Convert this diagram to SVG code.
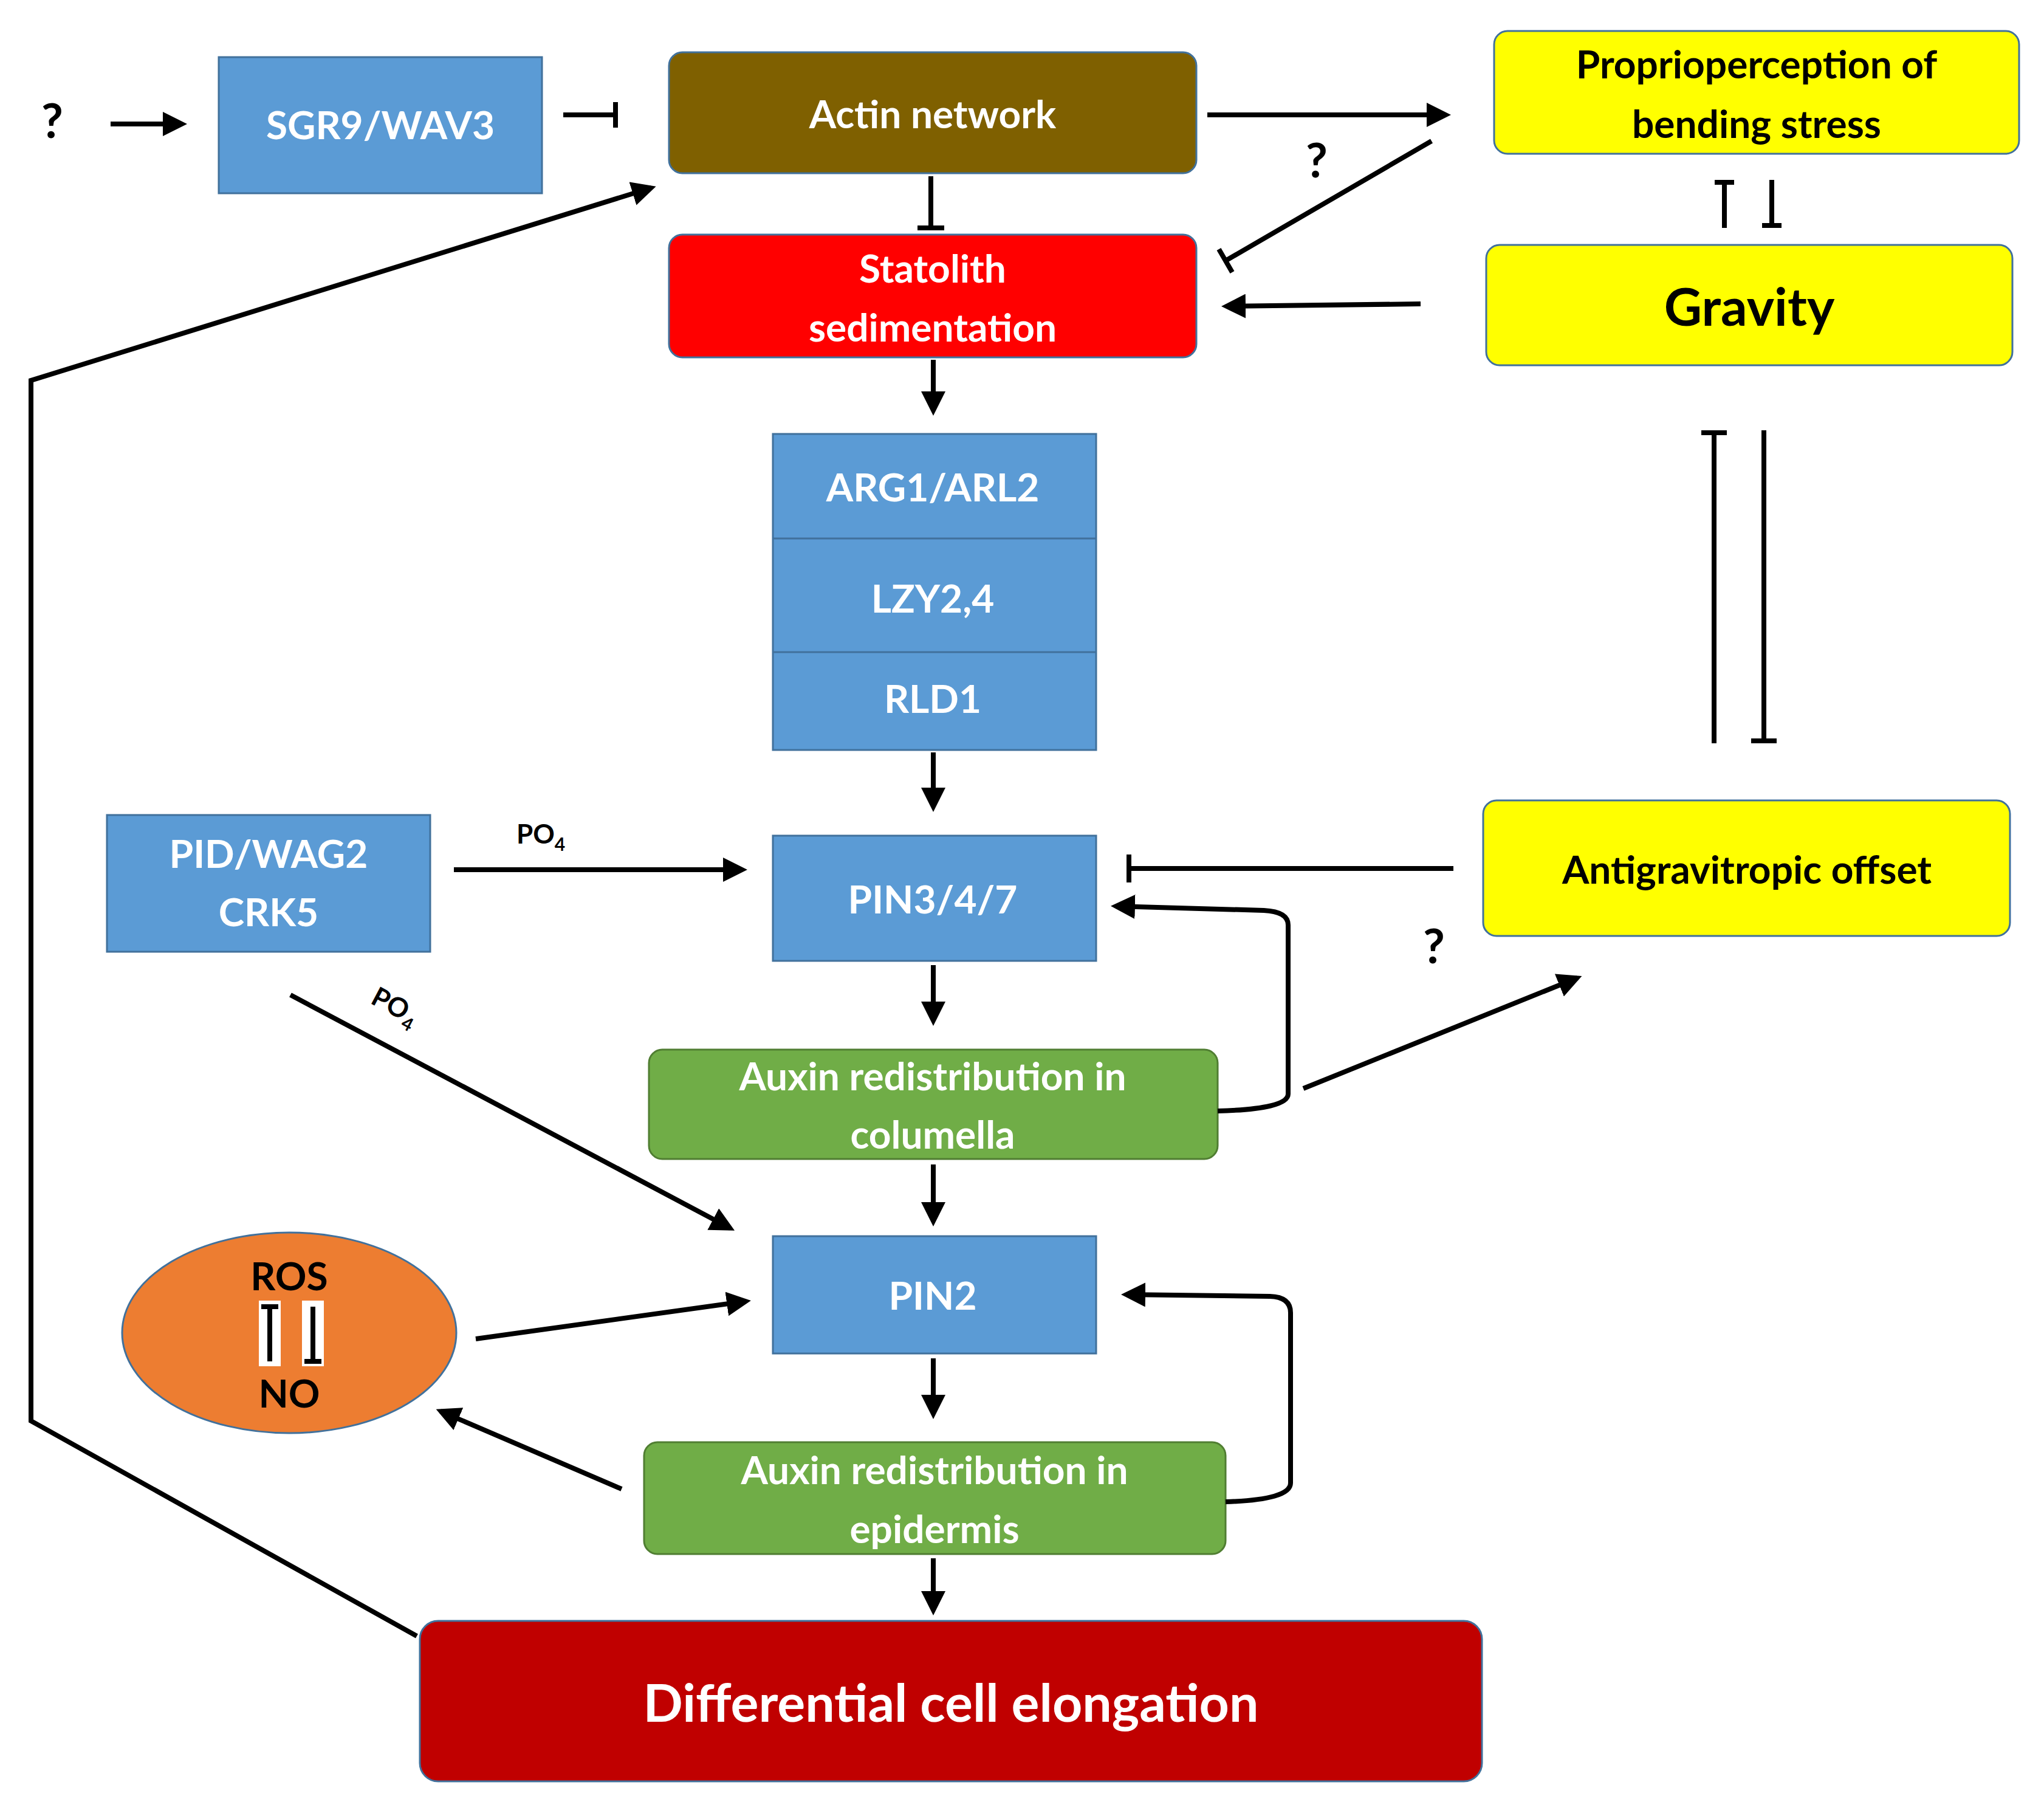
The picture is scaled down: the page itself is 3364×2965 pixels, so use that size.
<svg xmlns="http://www.w3.org/2000/svg" width="3364" height="2965" viewBox="0 0 3364 2965">
<style>
.t{font-family:Lato,"Open Sans","Liberation Sans",sans-serif;font-weight:bold;text-anchor:middle;dominant-baseline:central}
.w{fill:#fff;font-size:64px}
.k{fill:#000;font-size:64px}
.blue{fill:#5B9BD5;stroke:#41719C;stroke-width:3}
.yel{fill:#FFFF00;stroke:#41719C;stroke-width:3}
.grn{fill:#70AD47;stroke:#507E32;stroke-width:3}
.ln{stroke:#000;stroke-width:8;fill:none}
.q{font-family:Lato,"Liberation Sans",sans-serif;font-weight:bold;font-size:78px;fill:#000;text-anchor:middle;dominant-baseline:central}
.po{font-family:Lato,"Liberation Sans",sans-serif;font-weight:bold;font-size:44px;fill:#000}
</style>
<defs>
<marker id="a" markerWidth="5" markerHeight="5" refX="4" refY="2.5" orient="auto"><path d="M0,0 L5,2.5 L0,5 Z" fill="#000"/></marker>
</defs>
<rect width="3364" height="2965" fill="#fff"/>
<g id="sgr9"><rect class="blue" x="360" y="94" width="532" height="224"/><text class="t w" x="626" y="204">SGR9/WAV3</text></g>
<g id="actin"><rect x="1101" y="86" width="868" height="199" rx="22" fill="#7F6000" stroke="#41719C" stroke-width="3"/><text class="t w" x="1535" y="186">Actin network</text></g>
<g id="proprio"><rect class="yel" x="2459" y="51" width="864" height="202" rx="22"/><text class="t k" x="2891" y="104">Proprioperception of</text><text class="t k" x="2891" y="202">bending stress</text></g>
<g id="statolith"><rect x="1101" y="386" width="868" height="202" rx="22" fill="#FF0000" stroke="#41719C" stroke-width="3"/><text class="t w" x="1535" y="440">Statolith</text><text class="t w" x="1535" y="537">sedimentation</text></g>
<g id="gravity"><rect class="yel" x="2446" y="403" width="866" height="198" rx="22"/><text class="t k" x="2879" y="502" font-size="86" style="font-size:86px">Gravity</text></g>
<g id="arg"><rect class="blue" x="1272" y="714" width="532" height="520"/><line x1="1272" y1="886" x2="1804" y2="886" stroke="#41719C" stroke-width="3"/><line x1="1272" y1="1073" x2="1804" y2="1073" stroke="#41719C" stroke-width="3"/><text class="t w" x="1535" y="800">ARG1/ARL2</text><text class="t w" x="1535" y="983">LZY2,4</text><text class="t w" x="1535" y="1148">RLD1</text></g>
<g id="pid"><rect class="blue" x="176" y="1341" width="532" height="225"/><text class="t w" x="442" y="1403">PID/WAG2</text><text class="t w" x="442" y="1499">CRK5</text></g>
<g id="pin3"><rect class="blue" x="1272" y="1375" width="532" height="206"/><text class="t w" x="1535" y="1478">PIN3/4/7</text></g>
<g id="anti"><rect class="yel" x="2441" y="1317" width="867" height="223" rx="22"/><text class="t k" x="2875" y="1429">Antigravitropic offset</text></g>
<g id="auxcol"><rect class="grn" x="1068" y="1727" width="936" height="180" rx="22"/><text class="t w" x="1535" y="1769">Auxin redistribution in</text><text class="t w" x="1535" y="1865">columella</text></g>
<g id="pin2"><rect class="blue" x="1272" y="2034" width="532" height="193"/><text class="t w" x="1535" y="2130">PIN2</text></g>
<g id="rosno"><ellipse cx="476" cy="2193" rx="275" ry="165" fill="#ED7D31" stroke="#41719C" stroke-width="3"/><text class="t k" x="476" y="2098">ROS</text><text class="t k" x="476" y="2291">NO</text>
<rect x="426" y="2140" width="36" height="108" fill="#fff"/><rect x="497" y="2140" width="36" height="108" fill="#fff"/>
<path class="ln" d="M444,2150 V2240 M430,2150 H458 M515,2150 V2240 M501,2240 H529"/></g>
<g id="auxepi"><rect class="grn" x="1060" y="2373" width="957" height="184" rx="22"/><text class="t w" x="1538" y="2417">Auxin redistribution in</text><text class="t w" x="1538" y="2514">epidermis</text></g>
<g id="diff"><rect x="691" y="2667" width="1748" height="264" rx="30" fill="#C00000" stroke="#41719C" stroke-width="3"/><text class="t w" x="1565" y="2799" style="font-size:86px">Differential cell elongation</text></g>
<g id="connectors">
<text class="q" x="86" y="197">?</text>
<text class="q" x="2167" y="262">?</text>
<text class="q" x="2360" y="1555">?</text>
<line class="ln" x1="182" y1="204" x2="300" y2="204" marker-end="url(#a)"/>
<path class="ln" d="M927,189 H1013 M1013,168 V210"/>
<line class="ln" x1="1987" y1="189" x2="2380" y2="189" marker-end="url(#a)"/>
<path class="ln" d="M2356,232 L2017,429 M2006,410 L2028,448"/>
<path class="ln" d="M1532,290 V375 M1510,375 H1554"/>
<line class="ln" x1="2338" y1="500" x2="2018" y2="504" stroke-width="11" marker-end="url(#a)"/>
<path class="ln" d="M2838,300 V375 M2822,300 H2854 M2916,296 V371 M2900,371 H2932"/>
<line class="ln" x1="1536" y1="592" x2="1536" y2="676" marker-end="url(#a)"/>
<line class="ln" x1="1536" y1="1238" x2="1536" y2="1328" marker-end="url(#a)"/>
<path class="ln" d="M2821,712 V1223 M2800,712 H2842 M2903,708 V1219 M2882,1219 H2924" stroke-width="10"/>
<line class="ln" x1="747" y1="1431" x2="1222" y2="1431" marker-end="url(#a)"/>
<text class="po" x="850" y="1388">PO<tspan font-size="30" dy="12">4</tspan></text>
<path class="ln" d="M2392,1429 H1858 M1858,1406 V1452"/>
<line class="ln" x1="2145" y1="1791" x2="2596" y2="1609" marker-end="url(#a)"/>
<path class="ln" d="M2004,1828 Q2120,1825 2120,1800 L2120,1522 Q2120,1500 2080,1498 L1836,1491" marker-end="url(#a)"/>
<line class="ln" x1="1536" y1="1588" x2="1536" y2="1680" marker-end="url(#a)"/>
<line class="ln" x1="478" y1="1637" x2="1202" y2="2021" marker-end="url(#a)"/>
<text class="po" transform="translate(608,1650) rotate(28)">PO<tspan font-size="30" dy="12">4</tspan></text>
<line class="ln" x1="1536" y1="1916" x2="1536" y2="2010" marker-end="url(#a)"/>
<line class="ln" x1="783" y1="2203" x2="1228" y2="2141" marker-end="url(#a)"/>
<line class="ln" x1="1536" y1="2235" x2="1536" y2="2327" marker-end="url(#a)"/>
<line class="ln" x1="1023" y1="2450" x2="725" y2="2322" marker-end="url(#a)"/>
<path class="ln" d="M2017,2471 Q2124,2468 2124,2440 L2124,2160 Q2124,2134 2090,2133 L1853,2130" marker-end="url(#a)"/>
<line class="ln" x1="1536" y1="2564" x2="1536" y2="2650" marker-end="url(#a)"/>
<path class="ln" d="M686,2692 L51,2338 L51,626 L1072,309" marker-end="url(#a)"/>
</g>
</svg>
